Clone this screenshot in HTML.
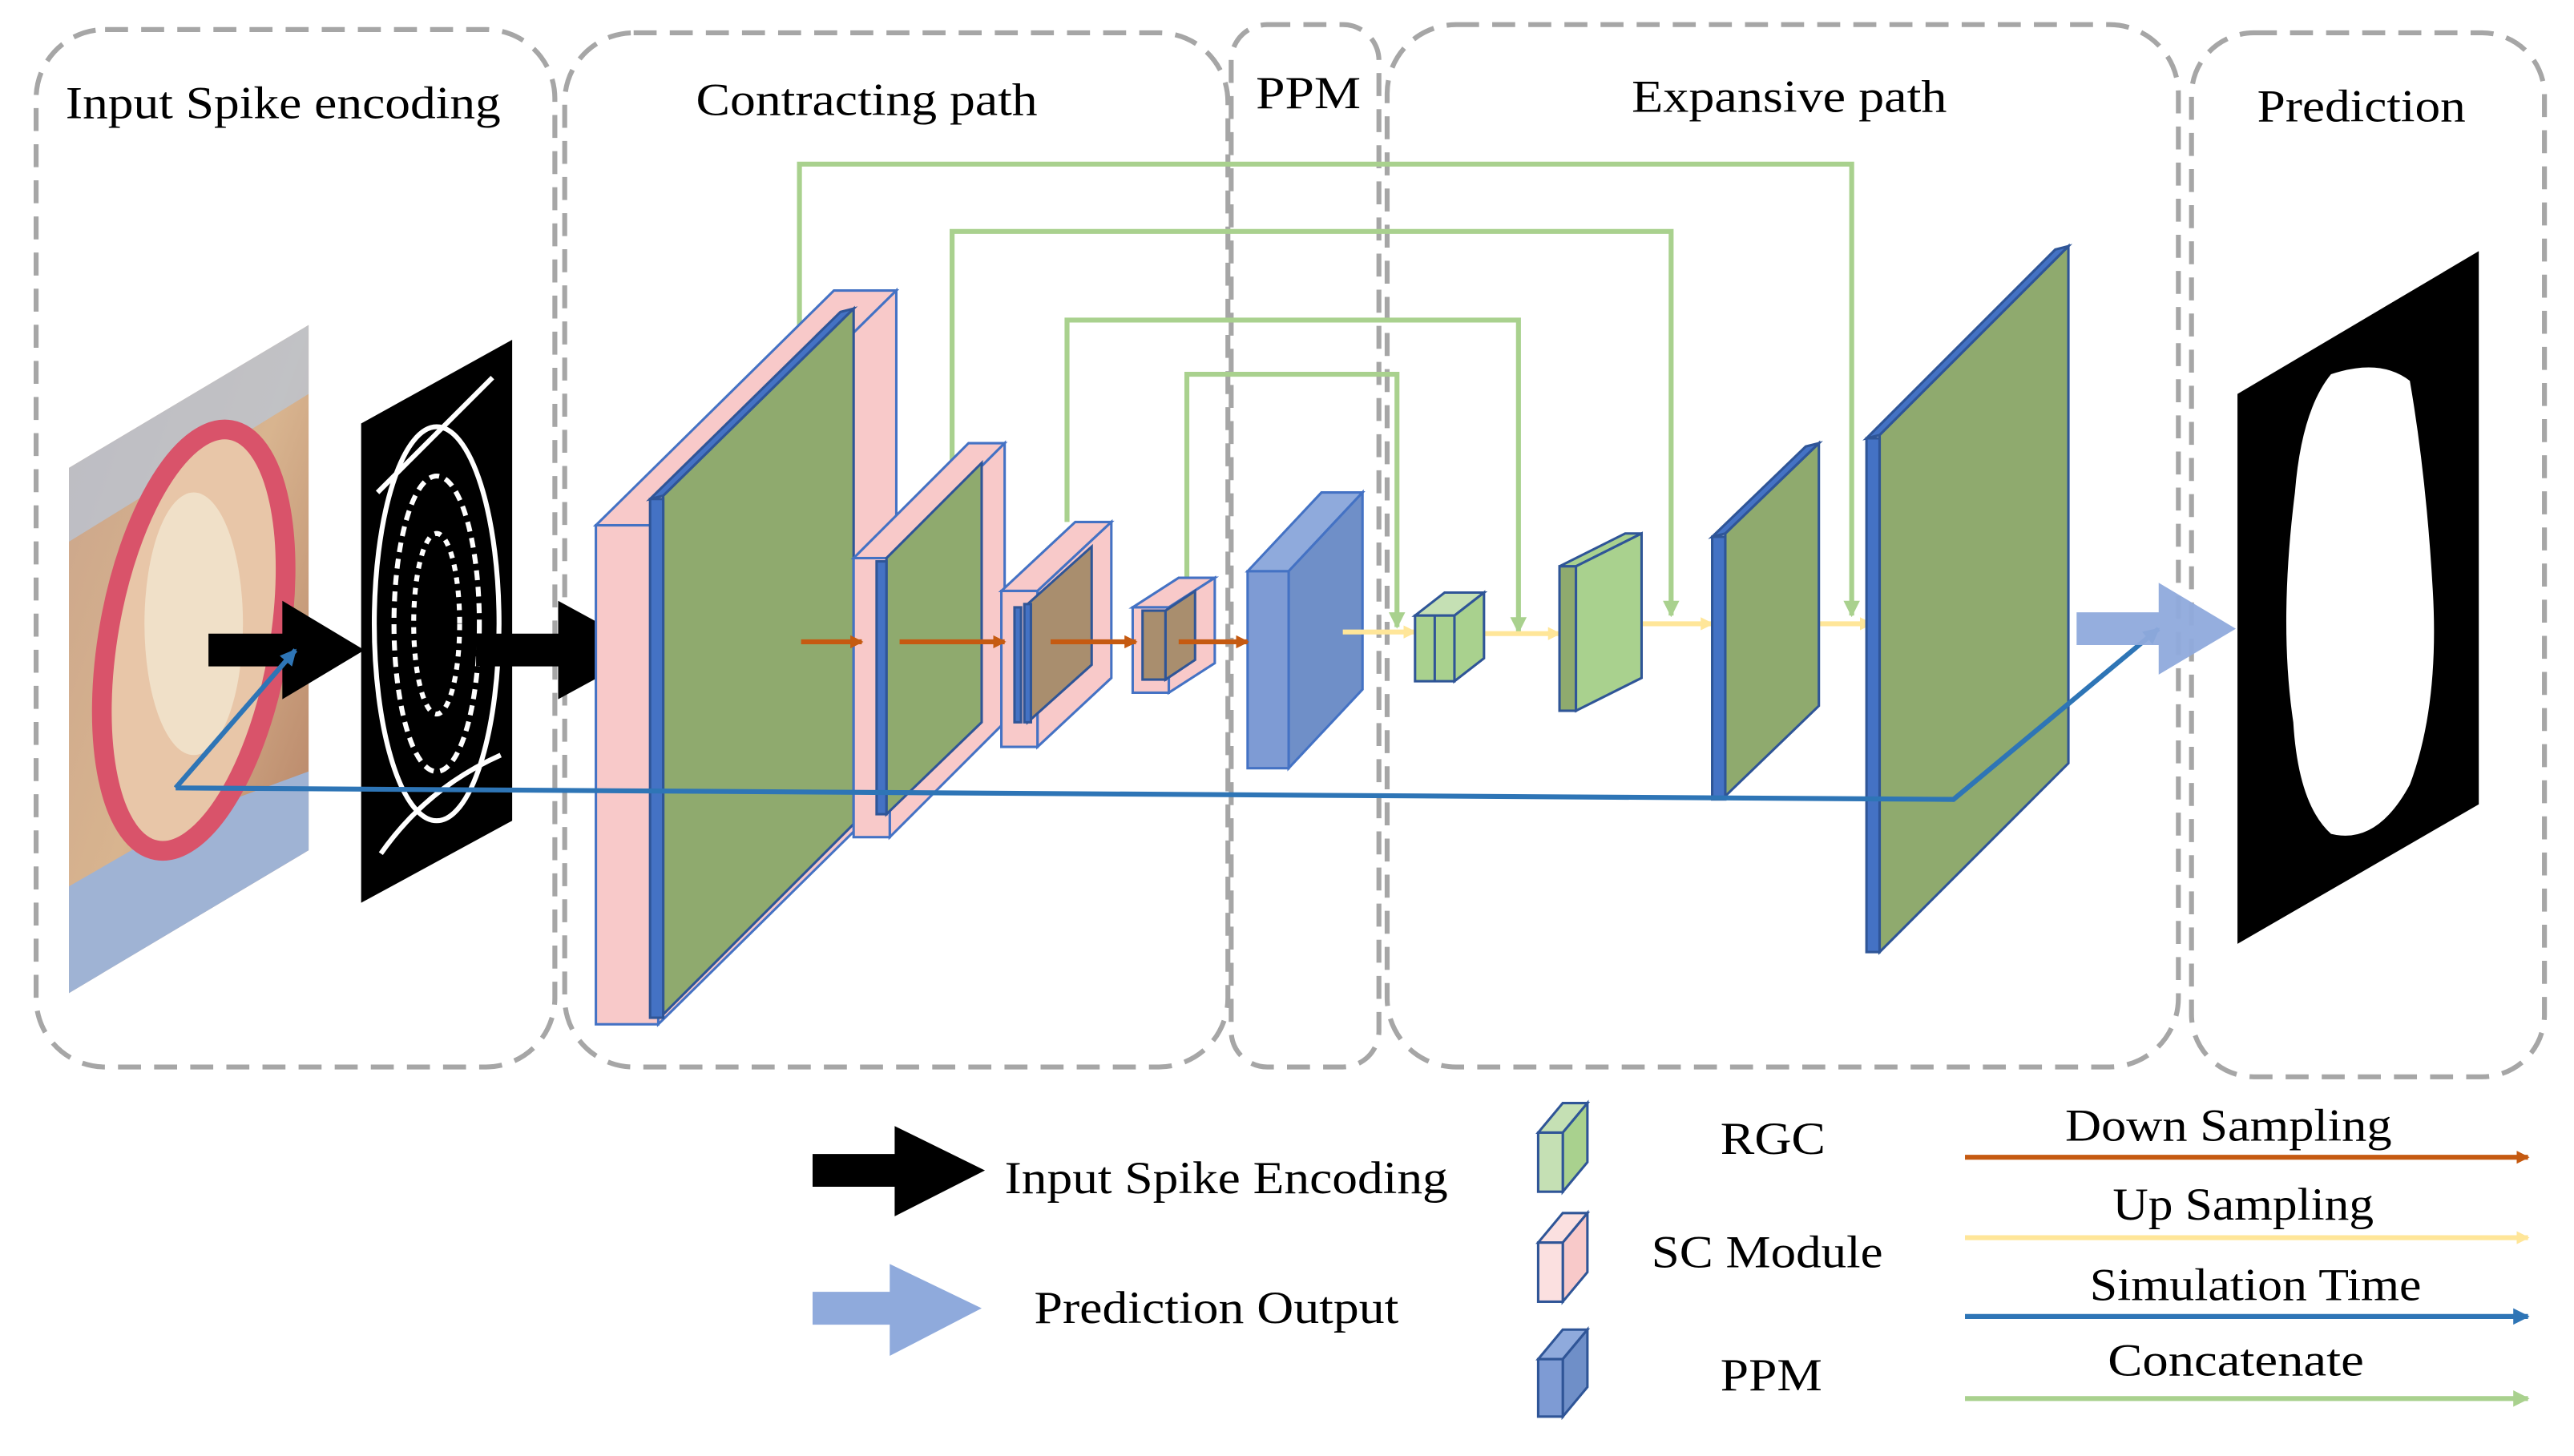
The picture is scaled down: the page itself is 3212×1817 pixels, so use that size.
<!DOCTYPE html>
<html><head><meta charset="utf-8"><style>html,body{margin:0;padding:0;background:#fff}svg{display:block}</style></head>
<body>
<svg width="3212" height="1817" viewBox="0 0 1568 887" preserveAspectRatio="none" xmlns="http://www.w3.org/2000/svg" font-family="Liberation Serif, serif" font-size="28">
<defs>
<marker id="mo" markerWidth="8" markerHeight="8" refX="7" refY="4" orient="auto" markerUnits="userSpaceOnUse"><path d="M0,0L8,4L0,8z" fill="#c55a11"/></marker>
<marker id="my" markerWidth="8" markerHeight="8" refX="7" refY="4" orient="auto" markerUnits="userSpaceOnUse"><path d="M0,0L8,4L0,8z" fill="#ffe699"/></marker>
<marker id="mb" markerWidth="10" markerHeight="10" refX="9" refY="5" orient="auto" markerUnits="userSpaceOnUse"><path d="M0,0L10,5L0,10z" fill="#2e75b6"/></marker>
<marker id="mg" markerWidth="10" markerHeight="10" refX="9" refY="5" orient="auto" markerUnits="userSpaceOnUse"><path d="M0,0L10,5L0,10z" fill="#a9d18e"/></marker>
<linearGradient id="skin" x1="0" y1="0" x2="1" y2="1"><stop offset="0" stop-color="#c9a38a"/><stop offset="0.5" stop-color="#d8b48f"/><stop offset="1" stop-color="#b07a5e"/></linearGradient>
</defs>
<g fill="none" stroke="#a6a6a6" stroke-width="3" stroke-dasharray="14,8">
<rect x="22" y="18" width="316" height="632" rx="42"/>
<rect x="344" y="20" width="404" height="630" rx="42"/>
<rect x="750" y="15" width="90" height="635" rx="22"/>
<rect x="845" y="15" width="482" height="635" rx="42"/>
<rect x="1335" y="20" width="215" height="636" rx="38"/>
</g>
<g fill="#000">
<text x="40" y="72" textLength="265" lengthAdjust="spacingAndGlyphs">Input Spike encoding</text>
<text x="424" y="70" textLength="208" lengthAdjust="spacingAndGlyphs">Contracting path</text>
<text x="765" y="66" textLength="64" lengthAdjust="spacingAndGlyphs">PPM</text>
<text x="994" y="68" textLength="192" lengthAdjust="spacingAndGlyphs">Expansive path</text>
<text x="1375" y="74" textLength="127" lengthAdjust="spacingAndGlyphs">Prediction</text>
</g>
<!-- input image -->
<polygon points="42,285 188,198 188,518 42,605" fill="url(#skin)"/>
<polygon points="42,285 188,198 188,240 42,330" fill="#b8c8dc" opacity="0.7"/>
<polygon points="42,540 120,495 188,470 188,518 42,605" fill="#9fb3d4"/>
<ellipse cx="118" cy="390" rx="52" ry="130" transform="rotate(10 118 390)" fill="#e8c6a8" stroke="#d9536a" stroke-width="12"/>
<ellipse cx="118" cy="380" rx="30" ry="80" fill="#f0e0c8"/>
<!-- spike map -->
<polygon points="220,258 312,207 312,500 220,550" fill="#000"/>
<g fill="none" stroke="#fff" stroke-width="3">
<ellipse cx="266" cy="380" rx="38" ry="120"/>
<ellipse cx="266" cy="380" rx="26" ry="90" stroke-dasharray="6,4"/>
<ellipse cx="266" cy="380" rx="14" ry="55" stroke-dasharray="4,4"/>
<path d="M230,300 L300,230 M232,520 Q260,480 305,460"/>
</g>
<!-- black arrows -->
<polygon points="127,386 172,386 172,366 222,396 172,426 172,406 127,406" fill="#000"/>
<polygon points="290,386 340,386 340,366 395,396 340,426 340,406 290,406" fill="#000"/>
<!-- concat lines -->
<g fill="none" stroke="#a9d18e" stroke-width="3">
<path d="M487,218 V100 H1128 V375" marker-end="url(#mg)"/>
<path d="M580,297 V141 H1018 V375" marker-end="url(#mg)"/>
<path d="M650,318 V195 H925 V385" marker-end="url(#mg)"/>
<path d="M723,356 V228 H851 V382" marker-end="url(#mg)"/>
</g>
<g stroke="#2f5597" stroke-width="1.5">
<polygon points="363,320 508,177 546,177 401,320" fill="#f8c9c9" stroke="#4472c4"/>
<polygon points="401,320 546,177 546,481 401,624" fill="#f8c9c9" stroke="#4472c4"/>
<rect x="363" y="320" width="38" height="304" fill="#f8c9c9" stroke="#4472c4"/>
<polygon points="404,302 520,188 520,502 404,618" fill="#8faa6e"/>
<polygon points="396,304 512,190 520,188 404,302" fill="#4472c4"/>
<rect x="396" y="304" width="8" height="316" fill="#4472c4"/>
<polygon points="520,340 590,270 612,270 542,340" fill="#f8c9c9" stroke="#4472c4"/>
<polygon points="542,340 612,270 612,440 542,510" fill="#f8c9c9" stroke="#4472c4"/>
<rect x="520" y="340" width="22" height="170" fill="#f8c9c9" stroke="#4472c4"/>
<polygon points="540,340 598,282 598,440 540,496" fill="#8faa6e"/>
<rect x="534" y="342" width="6" height="154" fill="#4472c4"/>
<polygon points="610,360 655,318 677,318 632,360" fill="#f8c9c9" stroke="#4472c4"/>
<polygon points="632,360 677,318 677,413 632,455" fill="#f8c9c9" stroke="#4472c4"/>
<rect x="610" y="360" width="22" height="95" fill="#f8c9c9" stroke="#4472c4"/>
<polygon points="626,368 665,333 665,405 626,440" fill="#a98e6e"/>
<rect x="618" y="370" width="4" height="70" fill="#4472c4"/>
<rect x="624" y="368" width="4" height="72" fill="#4472c4"/>
<polygon points="690,370 718,352 740,352 712,370" fill="#f8c9c9" stroke="#4472c4"/>
<polygon points="712,370 740,352 740,404 712,422" fill="#f8c9c9" stroke="#4472c4"/>
<rect x="690" y="370" width="22" height="52" fill="#f8c9c9" stroke="#4472c4"/>
<rect x="696" y="372" width="14" height="42" fill="#a98e6e"/>
<polygon points="710,372 728,360 728,402 710,414" fill="#a98e6e"/>
<polygon points="760,348 805,300 830,300 785,348" fill="#8faadc" stroke="#4472c4"/>
<polygon points="785,348 830,300 830,420 785,468" fill="#6f8fc8" stroke="#4472c4"/>
<rect x="760" y="348" width="25" height="120" fill="#7e9bd4" stroke="#4472c4"/>
</g>
<g stroke="#c55a11" stroke-width="3">
<line x1="488" y1="391" x2="525" y2="391" marker-end="url(#mo)"/>
<line x1="548" y1="391" x2="612" y2="391" marker-end="url(#mo)"/>
<line x1="640" y1="391" x2="692" y2="391" marker-end="url(#mo)"/>
<line x1="718" y1="391" x2="760" y2="391" marker-end="url(#mo)"/>
</g>
<g stroke="#ffe699" stroke-width="3">
<line x1="818" y1="385" x2="862" y2="385" marker-end="url(#my)"/>
<line x1="900" y1="386" x2="950" y2="386" marker-end="url(#my)"/>
<line x1="995" y1="380" x2="1043" y2="380" marker-end="url(#my)"/>
<line x1="1095" y1="380" x2="1140" y2="380" marker-end="url(#my)"/>
</g>
<g stroke="#2f5597" stroke-width="1.5">
<polygon points="862,375 880,361 904,361 886,375" fill="#c5e0b4"/>
<polygon points="886,375 904,361 904,401 886,415" fill="#a9d18e"/>
<rect x="862" y="375" width="24" height="40" fill="#a9d18e"/>
<line x1="874" y1="375" x2="874" y2="415"/>
<polygon points="950,345 990,325 1000,325 960,345" fill="#a9d18e"/>
<polygon points="960,345 1000,325 1000,413 960,433" fill="#a9d18e"/>
<rect x="950" y="345" width="10" height="88" fill="#8faa6e"/>
<polygon points="1051,325 1108,270 1108,430 1051,485" fill="#8faa6e"/>
<polygon points="1043,327 1100,272 1108,270 1051,325" fill="#4472c4"/>
<rect x="1043" y="327" width="8" height="160" fill="#4472c4"/>
<polygon points="1145,265 1260,150 1260,465 1145,580" fill="#8faa6e"/>
<polygon points="1137,267 1252,152 1260,150 1145,265" fill="#4472c4"/>
<rect x="1137" y="267" width="8" height="313" fill="#4472c4"/>
</g>
<g fill="none" stroke="#2e75b6" stroke-width="3">
<path d="M107,480 L1190,487 L1315,383" marker-end="url(#mb)"/>
<path d="M107,480 L180,396" marker-end="url(#mb)"/>
</g>
<polygon points="1265,373 1315,373 1315,355 1362,383 1315,411 1315,393 1265,393" fill="#8faadc" opacity="0.95"/>
<polygon points="1363,240 1510,153 1510,490 1363,575" fill="#000"/>
<path d="M1420,228 Q1450,218 1468,232 Q1478,290 1482,360 Q1486,430 1468,478 Q1448,515 1420,508 Q1400,490 1397,440 Q1388,380 1398,300 Q1402,250 1420,228z" fill="#fff"/>
<polygon points="495,703 545,703 545,686 600,713 545,741 545,723 495,723" fill="#000"/>
<text x="612" y="727" textLength="270" lengthAdjust="spacingAndGlyphs">Input Spike Encoding</text>
<polygon points="495,787 542,787 542,770 598,797 542,826 542,807 495,807" fill="#8faadc"/>
<text x="630" y="806" textLength="222" lengthAdjust="spacingAndGlyphs">Prediction Output</text>
<g stroke="#2f5597" stroke-width="1.5">
<polygon points="937,690 952,672 967,672 952,690" fill="#c5e0b4"/>
<polygon points="952,690 967,672 967,708 952,726" fill="#a9d18e"/>
<rect x="937" y="690" width="15" height="36" fill="#c5e0b4"/>
<polygon points="937,757 952,739 967,739 952,757" fill="#fbe0e0"/>
<polygon points="952,757 967,739 967,775 952,793" fill="#f8c9c9"/>
<rect x="937" y="757" width="15" height="36" fill="#fbe0e0"/>
<polygon points="937,828 952,810 967,810 952,828" fill="#8faadc"/>
<polygon points="952,828 967,810 967,845 952,863" fill="#6f8fc8"/>
<rect x="937" y="828" width="15" height="35" fill="#7e9bd4"/>
</g>
<text x="1048" y="703" textLength="64" lengthAdjust="spacingAndGlyphs">RGC</text>
<text x="1006" y="772" textLength="141" lengthAdjust="spacingAndGlyphs">SC Module</text>
<text x="1048" y="847" textLength="62" lengthAdjust="spacingAndGlyphs">PPM</text>
<g stroke-width="3">
<line x1="1197" y1="705" x2="1540" y2="705" stroke="#c55a11" marker-end="url(#mo)"/>
<line x1="1197" y1="754" x2="1540" y2="754" stroke="#ffe699" marker-end="url(#my)"/>
<line x1="1197" y1="802" x2="1540" y2="802" stroke="#2e75b6" marker-end="url(#mb)"/>
<line x1="1197" y1="852" x2="1540" y2="852" stroke="#a9d18e" marker-end="url(#mg)"/>
</g>
<text x="1258" y="695" textLength="199" lengthAdjust="spacingAndGlyphs">Down Sampling</text>
<text x="1287" y="743" textLength="159" lengthAdjust="spacingAndGlyphs">Up Sampling</text>
<text x="1273" y="792" textLength="202" lengthAdjust="spacingAndGlyphs">Simulation Time</text>
<text x="1284" y="838" textLength="156" lengthAdjust="spacingAndGlyphs">Concatenate</text>
</svg>
</body></html>
